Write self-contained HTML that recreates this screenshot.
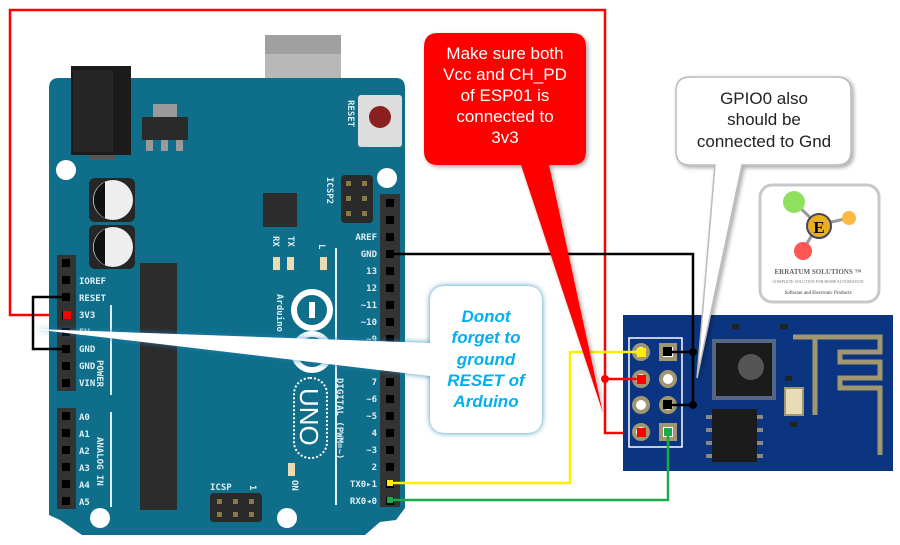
<!DOCTYPE html>
<html><head><meta charset="utf-8"><style>
html,body{margin:0;padding:0;background:#fff;}
svg{display:block;}
.pl{font-family:"DejaVu Sans Mono","Liberation Mono",monospace;font-size:9px;fill:#dfeef3;font-weight:bold;}
</style></head><body>
<svg width="900" height="545" viewBox="0 0 900 545" xmlns="http://www.w3.org/2000/svg">
<defs>
<filter id="sh" x="-20%" y="-20%" width="140%" height="140%"><feDropShadow dx="2" dy="2" stdDeviation="2" flood-color="#000" flood-opacity="0.35"/></filter>
<filter id="bl" x="-20%" y="-20%" width="140%" height="140%"><feDropShadow dx="0" dy="0" stdDeviation="3" flood-color="#1a7fb0" flood-opacity="0.9"/></filter>
</defs>

<polyline points="66,315 10,315 10,10 605,10 605,433 640,433" fill="none" stroke="#f00" stroke-width="2.5"/>

<rect x="265" y="35" width="76" height="104" fill="#b8b8b8"/>
<rect x="265" y="35" width="76" height="19" fill="#a0a0a0"/>
<rect x="256" y="78" width="10" height="9" fill="#aaa"/><rect x="340" y="78" width="10" height="9" fill="#aaa"/>

<path d="M49,88 Q49,78 59,78 L396,78 Q405,78 405,88 L405,508 L396,520 L380,522 L365,535 L82,535 L60,520 L49,515 Z" fill="#0f6e8a"/>
<rect x="71" y="66" width="60" height="89" fill="#1b1b1b"/>
<rect x="73" y="70" width="40" height="82" fill="#262626"/>
<rect x="90" y="155" width="25" height="5" fill="#555"/>
<rect x="153" y="104" width="24" height="14" fill="#9a9a9a"/>
<rect x="142" y="117" width="46" height="23" fill="#2a2a2a"/>
<rect x="146" y="140" width="7" height="11" fill="#9a9a9a"/><rect x="161" y="140" width="7" height="11" fill="#9a9a9a"/><rect x="176" y="140" width="7" height="11" fill="#9a9a9a"/>
<rect x="358" y="95" width="44" height="52" rx="3" fill="#ddd"/>
<circle cx="380" cy="117" r="11" fill="#8b2020"/>
<text x="348" y="100" class="pl" transform="rotate(90 348 100)" font-size="9">RESET</text>
<circle cx="66" cy="170" r="10" fill="#fff"/><circle cx="387" cy="178" r="10" fill="#fff"/>
<circle cx="100" cy="518" r="10" fill="#fff"/><circle cx="287" cy="518" r="10" fill="#fff"/>
<rect x="89" y="178" width="46" height="44" rx="6" fill="#262626"/>
<circle cx="113" cy="200" r="20" fill="#eee"/><path d="M105,182 A20,20 0 0 0 105,218 Z" fill="#111"/>
<rect x="89" y="225" width="46" height="44" rx="6" fill="#262626"/>
<circle cx="113" cy="247" r="20" fill="#eee"/><path d="M105,229 A20,20 0 0 0 105,265 Z" fill="#111"/>
<rect x="263" y="193" width="34" height="34" fill="#2c2c2c"/>
<rect x="140" y="263" width="37" height="247" fill="#2c2c2c"/>
<rect x="341" y="175" width="32" height="48" rx="4" fill="#2a2a2a"/>
<g fill="#8a7a4a"><rect x="346" y="181" width="5" height="5"/><rect x="362" y="181" width="5" height="5"/><rect x="346" y="196" width="5" height="5"/><rect x="362" y="196" width="5" height="5"/><rect x="346" y="211" width="5" height="5"/><rect x="362" y="211" width="5" height="5"/></g>
<text x="327" y="177" class="pl" transform="rotate(90 327 177)">ICSP2</text>
<text x="273" y="236" class="pl" transform="rotate(90 273 236)">RX</text>
<text x="288" y="236" class="pl" transform="rotate(90 288 236)">TX</text>
<text x="319" y="244" class="pl" transform="rotate(90 319 244)">L</text>
<g fill="#eadcb0"><rect x="273" y="257" width="7" height="13"/><rect x="287" y="257" width="7" height="13"/><rect x="320" y="257" width="7" height="13"/><rect x="288" y="463" width="7" height="13"/></g>
<text x="292" y="480" class="pl" transform="rotate(90 292 480)">ON</text>
<circle cx="312" cy="310" r="18" fill="none" stroke="#fff" stroke-width="6"/>
<circle cx="312" cy="352" r="18" fill="none" stroke="#fff" stroke-width="6"/>
<rect x="309" y="302" width="6" height="16" fill="#fff"/>
<text x="277" y="294" class="pl" font-size="13" transform="rotate(90 277 294)">Arduino</text>
<rect x="294" y="378" width="33" height="80" rx="16" fill="none" stroke="#fff" stroke-width="2" stroke-dasharray="2 2"/>
<text x="300" y="388" font-family="Liberation Sans,sans-serif" font-size="26" fill="#fff" transform="rotate(90 300 388)">UNO</text>
<rect x="110" y="305" width="2" height="90" fill="#dfeef3"/>
<rect x="110" y="412" width="2" height="95" fill="#dfeef3"/>
<rect x="335" y="248" width="2" height="257" fill="#dfeef3"/>
<text x="337" y="378" class="pl" transform="rotate(90 337 378)">DIGITAL (PWM=~)</text>
<text x="97" y="360" class="pl" transform="rotate(90 97 360)">POWER</text>
<text x="97" y="437" class="pl" transform="rotate(90 97 437)">ANALOG IN</text>
<rect x="57" y="255" width="19" height="136" fill="#333"/>
<rect x="57" y="408" width="19" height="101" fill="#333"/>
<rect x="380" y="194" width="20" height="313" fill="#333"/>
<g fill="#000">
<rect x="62" y="259" width="8" height="8"/><rect x="62" y="276" width="8" height="8"/><rect x="62" y="293" width="8" height="8"/><rect x="62" y="311" width="8" height="8"/><rect x="62" y="328" width="8" height="8"/><rect x="62" y="345" width="8" height="8"/><rect x="62" y="362" width="8" height="8"/><rect x="62" y="379" width="8" height="8"/>
<rect x="62" y="412" width="8" height="8"/><rect x="62" y="429" width="8" height="8"/><rect x="62" y="446" width="8" height="8"/><rect x="62" y="463" width="8" height="8"/><rect x="62" y="480" width="8" height="8"/><rect x="62" y="497" width="8" height="8"/>
<rect x="386" y="199" width="8" height="8"/><rect x="386" y="216" width="8" height="8"/><rect x="386" y="233" width="8" height="8"/><rect x="386" y="250" width="8" height="8"/><rect x="386" y="267" width="8" height="8"/><rect x="386" y="284" width="8" height="8"/><rect x="386" y="301" width="8" height="8"/><rect x="386" y="318" width="8" height="8"/><rect x="386" y="335" width="8" height="8"/><rect x="386" y="352" width="8" height="8"/><rect x="386" y="378" width="8" height="8"/><rect x="386" y="395" width="8" height="8"/><rect x="386" y="412" width="8" height="8"/><rect x="386" y="429" width="8" height="8"/><rect x="386" y="446" width="8" height="8"/><rect x="386" y="463" width="8" height="8"/><rect x="386" y="480" width="8" height="8"/><rect x="386" y="497" width="8" height="8"/>
</g>
<g class="pl">
<text x="79" y="284">IOREF</text><text x="79" y="301">RESET</text><text x="79" y="318">3V3</text><text x="79" y="335">5V</text><text x="79" y="352">GND</text><text x="79" y="369">GND</text><text x="79" y="386">VIN</text>
<text x="79" y="420">A0</text><text x="79" y="437">A1</text><text x="79" y="454">A2</text><text x="79" y="471">A3</text><text x="79" y="488">A4</text><text x="79" y="505">A5</text>
</g>
<g class="pl" text-anchor="end">
<text x="377" y="240">AREF</text><text x="377" y="257">GND</text><text x="377" y="274">13</text><text x="377" y="291">12</text><text x="377" y="308">~11</text><text x="377" y="325">~10</text><text x="377" y="342">~9</text><text x="377" y="359">8</text>
<text x="377" y="385">7</text><text x="377" y="402">~6</text><text x="377" y="419">~5</text><text x="377" y="436">4</text><text x="377" y="453">~3</text><text x="377" y="470">2</text><text x="377" y="487">TX0▸1</text><text x="377" y="504">RX0◂0</text>
</g>
<rect x="210" y="493" width="52" height="29" rx="4" fill="#2a2a2a"/>
<g fill="#8a7a4a"><rect x="217" y="499" width="5" height="5"/><rect x="233" y="499" width="5" height="5"/><rect x="249" y="499" width="5" height="5"/><rect x="217" y="512" width="5" height="5"/><rect x="233" y="512" width="5" height="5"/><rect x="249" y="512" width="5" height="5"/></g>
<text x="210" y="490" class="pl" font-size="10">ICSP</text>
<text x="250" y="485" class="pl" transform="rotate(90 250 485)">1</text>

<rect x="63" y="311" width="8" height="8" fill="#f00"/>
<polyline points="66,297 33,297 33,349 66,349" fill="none" stroke="#000" stroke-width="2.5"/>

<rect x="623" y="315" width="270" height="156" fill="#0b3580"/>
<rect x="629" y="338" width="53" height="109" fill="none" stroke="#fff" stroke-width="1.5"/>
<g fill="#fff" stroke="#a09670" stroke-width="4">
<circle cx="641" cy="352" r="7"/><circle cx="641" cy="379" r="7"/><circle cx="641" cy="405" r="7"/><circle cx="641" cy="432" r="7"/>
<circle cx="668" cy="379" r="7"/><circle cx="668" cy="405" r="7"/>
</g>
<rect x="659" y="343" width="18" height="18" fill="#a09670"/><rect x="663" y="347" width="10" height="10" fill="#fff"/>
<rect x="659" y="423" width="18" height="18" fill="#a09670"/><rect x="663" y="427" width="10" height="10" fill="#fff"/>
<rect x="712" y="339" width="64" height="61" fill="#888" opacity="0.6"/>
<rect x="716" y="343" width="56" height="53" fill="#1b1b1b"/>
<circle cx="751" cy="367" r="13" fill="#555"/>
<rect x="712" y="409" width="45" height="53" fill="#1b1b1b"/>
<g fill="#888"><rect x="706" y="415" width="6" height="4"/><rect x="706" y="428" width="6" height="4"/><rect x="706" y="441" width="6" height="4"/><rect x="706" y="454" width="6" height="4"/><rect x="757" y="415" width="6" height="4"/><rect x="757" y="428" width="6" height="4"/><rect x="757" y="441" width="6" height="4"/><rect x="757" y="454" width="6" height="4"/></g>
<g fill="#222"><rect x="732" y="324" width="7" height="5"/><rect x="780" y="324" width="8" height="5"/><rect x="785" y="376" width="7" height="5"/><rect x="790" y="422" width="7" height="5"/></g>
<rect x="785" y="388" width="18" height="27" fill="#e8dcb8" stroke="#a09670" stroke-width="2"/>
<path d="M793,337 L880,337 L880,352 L840,352 L840,362 L880,362 L880,378 L840,378 L840,388 L880,388 L880,455" fill="none" stroke="#a09670" stroke-width="5"/>
<path d="M815,337 L815,415" fill="none" stroke="#a09670" stroke-width="5"/>

<polyline points="390,254 693,254 693,405" fill="none" stroke="#000" stroke-width="2.5"/>
<line x1="667" y1="352" x2="693" y2="352" stroke="#000" stroke-width="2.5"/>
<line x1="667" y1="405" x2="693" y2="405" stroke="#000" stroke-width="2.5"/>
<circle cx="693" cy="352" r="4" fill="#000"/><circle cx="693" cy="405" r="4" fill="#000"/>
<rect x="663" y="347" width="9" height="9" fill="#000"/><rect x="663" y="400" width="9" height="9" fill="#000"/>
<polyline points="390,483 570,483 570,352 640,352" fill="none" stroke="#ffee00" stroke-width="2.5"/>
<rect x="637" y="348" width="9" height="9" fill="#ffee00"/>
<polyline points="390,500 668,500 668,432" fill="none" stroke="#1aaa4a" stroke-width="2.5"/>
<rect x="664" y="428" width="8" height="8" fill="#1aaa4a"/>
<rect x="387" y="480" width="6" height="6" fill="#ffee00"/><rect x="387" y="497" width="6" height="6" fill="#1aaa4a"/>
<line x1="605" y1="379" x2="640" y2="379" stroke="#f00" stroke-width="2.5"/>
<circle cx="605" cy="379" r="4" fill="#f00"/>
<rect x="637" y="375" width="9" height="9" fill="#f00"/><rect x="637" y="428" width="9" height="9" fill="#f00"/>

<g filter="url(#sh)">
<path d="M438,33 L572,33 Q586,33 586,47 L586,151 Q586,165 572,165 L549,165 L603,413 L521,165 L438,165 Q424,165 424,151 L424,47 Q424,33 438,33 Z" fill="#f00"/>
</g>
<g font-family="Liberation Sans,sans-serif" font-size="17" fill="#fff" text-anchor="middle">
<text x="505" y="59">Make sure both</text><text x="505" y="80">Vcc and CH_PD</text><text x="505" y="101">of ESP01 is</text><text x="505" y="122">connected to</text><text x="505" y="143">3v3</text>
</g>

<g filter="url(#sh)">
<path d="M690,77 L837,77 Q851,77 851,91 L851,151 Q851,165 837,165 L742,165 L697,378 L715,165 L690,165 Q676,165 676,151 L676,91 Q676,77 690,77 Z" fill="#fff" stroke="#bbb" stroke-width="1.5"/>
</g>
<g font-family="Liberation Sans,sans-serif" font-size="17" fill="#222" text-anchor="middle">
<text x="764" y="104">GPIO0 also</text><text x="764" y="125">should be</text><text x="764" y="147">connected to Gnd</text>
</g>

<rect x="760" y="185" width="119" height="117" rx="12" fill="#fff" stroke="#c8c8c8" stroke-width="3"/>
<line x1="794" y1="202" x2="818" y2="225" stroke="#999" stroke-width="3"/>
<line x1="818" y1="225" x2="849" y2="218" stroke="#999" stroke-width="3"/>
<line x1="818" y1="225" x2="803" y2="250" stroke="#999" stroke-width="3"/>
<circle cx="794" cy="202" r="11" fill="#90e060"/>
<circle cx="849" cy="218" r="7" fill="#ffb840"/>
<circle cx="803" cy="251" r="9" fill="#ff5555"/>
<circle cx="819" cy="226" r="12" fill="#e8b020" stroke="#446" stroke-width="2"/>
<text x="819" y="233" font-family="Liberation Serif,serif" font-weight="bold" font-size="17" fill="#000" text-anchor="middle">E</text>
<text x="818" y="274" font-family="Liberation Serif,serif" font-weight="bold" font-size="7" fill="#666" text-anchor="middle">ERRATUM SOLUTIONS ™</text>
<text x="818" y="283" font-family="Liberation Serif,serif" font-size="4" fill="#777" text-anchor="middle">COMPLETE SOLUTION FOR HOME AUTOMATION</text>
<text x="818" y="294" font-family="Liberation Serif,serif" font-size="5" fill="#333" text-anchor="middle">Software and Electronic Products</text>

<g filter="url(#bl)">
<path d="M446,286 L526,286 Q542,286 542,302 L542,417 Q542,433 526,433 L446,433 Q430,433 430,417 L430,376 L33,329 L430,343 L430,302 Q430,286 446,286 Z" fill="#fff"/>
</g>
<g font-family="Liberation Sans,sans-serif" font-size="17" font-weight="bold" font-style="italic" fill="#00b0f0" text-anchor="middle">
<text x="486" y="322">Donot</text><text x="486" y="343">forget to</text><text x="486" y="365">ground</text><text x="486" y="386">RESET of</text><text x="486" y="407">Arduino</text>
</g>
</svg>
</body></html>
